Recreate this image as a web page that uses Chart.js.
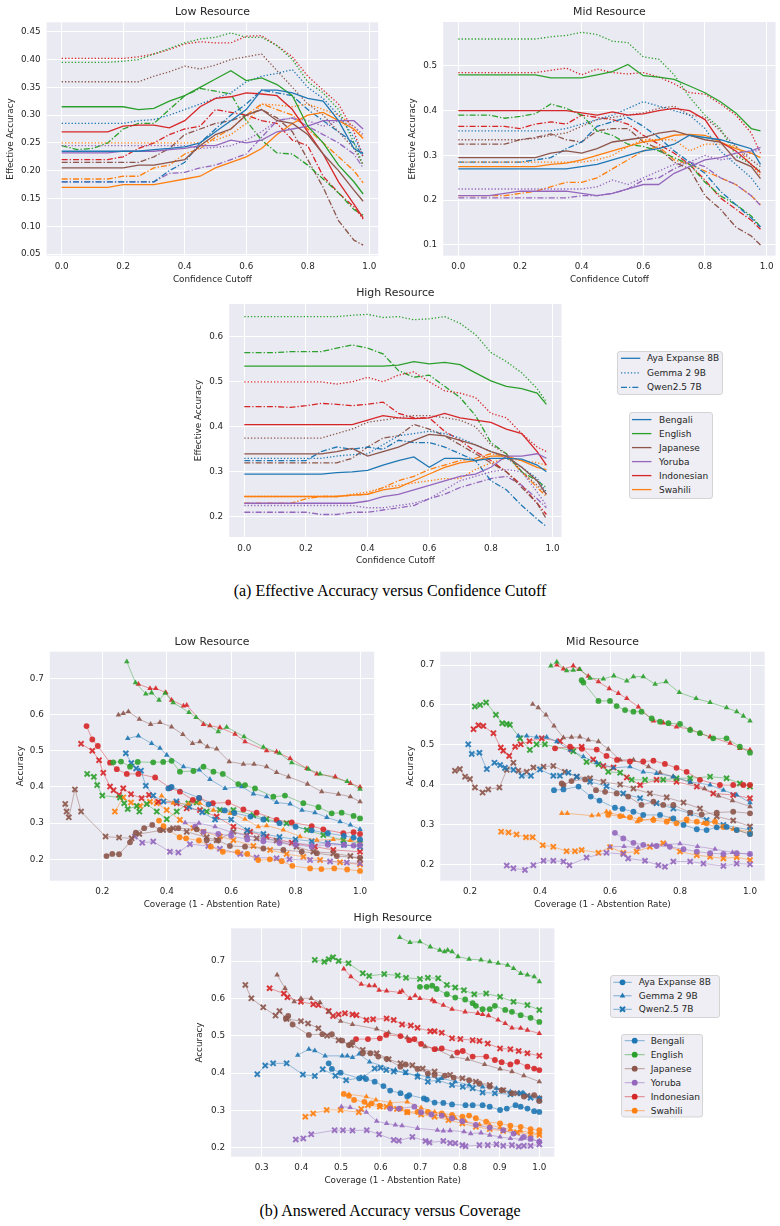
<!DOCTYPE html>
<html><head><meta charset="utf-8">
<script src="https://cdn.jsdelivr.net/npm/chart.js@4.4.0/dist/chart.umd.min.js"></script>
<style>
html,body{margin:0;padding:0;background:#fff;}
body{width:780px;height:1226px;overflow:hidden;position:relative;font-family:'DejaVu Sans',sans-serif;}
canvas{position:absolute;}
.cap{position:absolute;left:0;width:780px;text-align:center;font-family:'Liberation Serif','Times New Roman',serif;font-size:16px;color:#000;line-height:18px;white-space:nowrap;}
svg.leg{position:absolute;overflow:visible;}
svg.leg text{font-family:'DejaVu Sans',sans-serif;font-size:9px;fill:#262626;}
</style></head><body>
<div class="cap" style="top:582px">(a) Effective Accuracy versus Confidence Cutoff</div>
<div class="cap" style="top:1202px">(b) Answered Accuracy versus Coverage</div>
<div id="legends"></div>
<script>
// ---------------- categories ----------------
const LANGS = ['Bengali','English','Japanese','Yoruba','Indonesian','Swahili'];
const LANG_COLORS = ['#1f77b4','#2ca02c','#8c564b','#9467bd','#d62728','#ff7f0e'];
const MODELS = ['Aya Expanse 8B','Gemma 2 9B','Qwen2.5 7B'];

// ---------------- tick values ----------------
const CUTOFF_TICKS = [0,0.2,0.4,0.6,0.8,1.0];
const EA_LOW_Y_TICKS = [0.05,0.10,0.15,0.20,0.25,0.30,0.35,0.40,0.45];
const EA_MID_Y_TICKS = [0.1,0.2,0.3,0.4,0.5];
const EA_HIGH_Y_TICKS = [0.2,0.3,0.4,0.5,0.6];
const COV_LOW_TICKS = [0.2,0.4,0.6,0.8,1.0];
const COV_MID_TICKS = [0.2,0.4,0.6,0.8,1.0];
const COV_HIGH_TICKS = [0.3,0.4,0.5,0.6,0.7,0.8,0.9,1.0];
const ACC_Y_TICKS = [0.2,0.3,0.4,0.5,0.6,0.7];

// ---------------- (a) effective accuracy vs confidence cutoff ----------------
const CUTOFFS = [0,0.05,0.1,0.15,0.2,0.25,0.3,0.35,0.4,0.45,0.5,0.55,0.6,0.65,0.7,0.75,0.8,0.85,0.9,0.95,0.98];
// rows follow LANGS order
const EA_LOW_AYA = [
 [0.235,0.235,0.235,0.235,0.235,0.235,0.238,0.240,0.243,0.250,0.270,0.290,0.310,0.345,0.345,0.340,0.330,0.325,0.290,0.240,0.230],
 [0.315,0.315,0.315,0.315,0.315,0.310,0.312,0.325,0.335,0.350,0.365,0.380,0.362,0.367,0.355,0.335,0.280,0.250,0.210,0.180,0.158],
 [0.205,0.205,0.205,0.205,0.205,0.210,0.210,0.215,0.220,0.245,0.265,0.275,0.300,0.310,0.290,0.285,0.265,0.230,0.200,0.165,0.145],
 [0.232,0.232,0.232,0.232,0.235,0.235,0.235,0.238,0.240,0.245,0.245,0.255,0.250,0.255,0.270,0.275,0.280,0.290,0.290,0.290,0.275],
 [0.270,0.270,0.270,0.270,0.280,0.282,0.282,0.277,0.290,0.315,0.330,0.333,0.340,0.338,0.335,0.310,0.270,0.230,0.180,0.140,0.115],
 [0.170,0.170,0.170,0.170,0.175,0.175,0.175,0.180,0.185,0.190,0.205,0.215,0.225,0.240,0.265,0.285,0.300,0.305,0.290,0.275,0.258]
];
const EA_LOW_GEMMA = [
 [0.285,0.285,0.285,0.285,0.285,0.290,0.292,0.300,0.310,0.320,0.330,0.340,0.360,0.370,0.375,0.382,0.350,0.330,0.300,0.260,0.230],
 [0.395,0.395,0.395,0.395,0.397,0.400,0.410,0.420,0.430,0.437,0.440,0.448,0.440,0.440,0.425,0.400,0.360,0.340,0.310,0.250,0.210],
 [0.360,0.360,0.360,0.360,0.360,0.360,0.370,0.378,0.388,0.383,0.390,0.400,0.405,0.410,0.380,0.350,0.320,0.300,0.270,0.240,0.210],
 [0.245,0.245,0.245,0.245,0.245,0.245,0.245,0.245,0.245,0.240,0.242,0.245,0.255,0.270,0.290,0.295,0.290,0.280,0.290,0.280,0.265],
 [0.402,0.402,0.402,0.402,0.402,0.405,0.410,0.418,0.428,0.432,0.430,0.430,0.442,0.443,0.425,0.405,0.370,0.345,0.320,0.270,0.225],
 [0.250,0.250,0.250,0.250,0.250,0.250,0.250,0.250,0.250,0.250,0.255,0.265,0.285,0.320,0.318,0.315,0.320,0.310,0.300,0.280,0.260]
];
const EA_LOW_QWEN = [
 [0.180,0.180,0.180,0.180,0.180,0.180,0.180,0.200,0.215,0.250,0.275,0.300,0.320,0.345,0.340,0.335,0.310,0.290,0.270,0.250,0.225],
 [0.245,0.238,0.240,0.250,0.275,0.285,0.285,0.310,0.335,0.348,0.343,0.338,0.290,0.255,0.232,0.230,0.210,0.185,0.160,0.130,0.120],
 [0.215,0.215,0.215,0.215,0.215,0.215,0.225,0.240,0.265,0.275,0.285,0.290,0.300,0.310,0.295,0.270,0.220,0.170,0.110,0.075,0.066],
 [0.180,0.180,0.180,0.180,0.180,0.180,0.180,0.195,0.197,0.205,0.210,0.220,0.230,0.260,0.290,0.295,0.280,0.265,0.250,0.230,0.205],
 [0.220,0.220,0.220,0.220,0.225,0.240,0.250,0.265,0.275,0.280,0.310,0.305,0.300,0.290,0.285,0.255,0.245,0.190,0.160,0.135,0.113],
 [0.185,0.185,0.185,0.185,0.190,0.190,0.205,0.210,0.230,0.240,0.260,0.275,0.300,0.320,0.310,0.300,0.275,0.250,0.225,0.200,0.178]
];
const EA_MID_AYA = [
 [0.270,0.270,0.270,0.270,0.270,0.270,0.270,0.270,0.275,0.280,0.290,0.300,0.310,0.315,0.325,0.345,0.340,0.335,0.325,0.315,0.280],
 [0.480,0.480,0.480,0.480,0.480,0.480,0.473,0.473,0.473,0.480,0.487,0.503,0.478,0.475,0.470,0.455,0.440,0.420,0.395,0.360,0.355],
 [0.295,0.295,0.295,0.295,0.295,0.295,0.305,0.310,0.305,0.315,0.330,0.335,0.340,0.350,0.355,0.345,0.335,0.330,0.290,0.275,0.248],
 [0.210,0.210,0.210,0.215,0.220,0.220,0.220,0.220,0.215,0.210,0.215,0.225,0.235,0.235,0.260,0.275,0.290,0.295,0.305,0.310,0.318],
 [0.400,0.400,0.400,0.400,0.400,0.400,0.400,0.400,0.395,0.390,0.397,0.390,0.393,0.400,0.405,0.400,0.380,0.330,0.310,0.280,0.262],
 [0.275,0.275,0.275,0.275,0.275,0.275,0.280,0.283,0.290,0.300,0.310,0.320,0.330,0.335,0.345,0.347,0.345,0.330,0.315,0.305,0.295]
];
const EA_MID_GEMMA = [
 [0.355,0.355,0.355,0.355,0.355,0.355,0.355,0.360,0.370,0.380,0.390,0.405,0.420,0.410,0.400,0.390,0.360,0.310,0.280,0.250,0.222],
 [0.560,0.560,0.560,0.560,0.560,0.560,0.565,0.568,0.575,0.570,0.555,0.552,0.520,0.515,0.480,0.430,0.390,0.360,0.300,0.280,0.265],
 [0.335,0.335,0.335,0.335,0.335,0.338,0.345,0.350,0.365,0.380,0.385,0.390,0.395,0.405,0.410,0.390,0.385,0.355,0.320,0.290,0.275],
 [0.225,0.225,0.225,0.225,0.225,0.225,0.225,0.225,0.225,0.230,0.245,0.235,0.250,0.265,0.280,0.285,0.300,0.290,0.295,0.305,0.315],
 [0.485,0.485,0.485,0.485,0.485,0.485,0.490,0.495,0.480,0.493,0.485,0.482,0.485,0.475,0.460,0.440,0.437,0.415,0.390,0.350,0.305],
 [0.285,0.285,0.285,0.285,0.285,0.285,0.285,0.285,0.285,0.290,0.300,0.320,0.335,0.335,0.335,0.310,0.325,0.325,0.320,0.280,0.255]
];
const EA_MID_QWEN = [
 [0.285,0.285,0.285,0.285,0.285,0.290,0.295,0.315,0.330,0.365,0.375,0.385,0.365,0.340,0.310,0.285,0.260,0.220,0.190,0.160,0.140],
 [0.390,0.390,0.390,0.383,0.387,0.393,0.415,0.405,0.390,0.355,0.345,0.325,0.320,0.310,0.295,0.280,0.240,0.210,0.190,0.165,0.140],
 [0.325,0.325,0.325,0.325,0.335,0.340,0.348,0.335,0.330,0.355,0.360,0.360,0.330,0.315,0.285,0.270,0.210,0.180,0.140,0.120,0.100],
 [0.205,0.205,0.205,0.205,0.205,0.205,0.205,0.205,0.210,0.210,0.215,0.225,0.245,0.250,0.270,0.285,0.275,0.250,0.235,0.210,0.188],
 [0.365,0.365,0.365,0.365,0.360,0.370,0.375,0.370,0.390,0.385,0.380,0.370,0.345,0.325,0.305,0.280,0.245,0.205,0.180,0.155,0.135],
 [0.210,0.210,0.210,0.210,0.215,0.220,0.230,0.240,0.240,0.250,0.270,0.290,0.310,0.320,0.290,0.280,0.265,0.250,0.235,0.210,0.190]
];
const EA_HIGH_AYA = [
 [0.295,0.295,0.295,0.295,0.295,0.295,0.298,0.300,0.303,0.315,0.325,0.333,0.310,0.330,0.330,0.325,0.330,0.330,0.328,0.315,0.300],
 [0.535,0.535,0.535,0.535,0.535,0.535,0.535,0.535,0.535,0.535,0.537,0.545,0.540,0.543,0.538,0.520,0.502,0.490,0.485,0.475,0.450],
 [0.340,0.340,0.340,0.340,0.340,0.340,0.345,0.352,0.335,0.345,0.355,0.370,0.383,0.380,0.370,0.360,0.345,0.335,0.310,0.280,0.250],
 [0.230,0.230,0.230,0.230,0.230,0.230,0.230,0.230,0.235,0.245,0.250,0.260,0.270,0.280,0.290,0.295,0.310,0.335,0.335,0.340,0.330],
 [0.405,0.405,0.405,0.405,0.405,0.405,0.405,0.405,0.415,0.425,0.420,0.418,0.420,0.430,0.420,0.415,0.410,0.395,0.385,0.345,0.315],
 [0.245,0.245,0.245,0.245,0.245,0.245,0.245,0.248,0.250,0.260,0.265,0.280,0.295,0.310,0.320,0.325,0.335,0.335,0.325,0.310,0.305]
];
const EA_HIGH_GEMMA = [
 [0.330,0.330,0.330,0.330,0.330,0.330,0.335,0.338,0.340,0.360,0.380,0.385,0.390,0.385,0.375,0.360,0.345,0.330,0.310,0.285,0.255],
 [0.645,0.645,0.645,0.645,0.645,0.645,0.645,0.648,0.650,0.643,0.645,0.638,0.640,0.645,0.630,0.605,0.565,0.545,0.520,0.485,0.455],
 [0.375,0.375,0.375,0.375,0.375,0.375,0.385,0.395,0.410,0.415,0.420,0.425,0.425,0.420,0.415,0.400,0.360,0.340,0.300,0.270,0.250],
 [0.225,0.225,0.225,0.225,0.225,0.225,0.225,0.225,0.220,0.220,0.225,0.230,0.240,0.260,0.280,0.290,0.300,0.305,0.300,0.255,0.225],
 [0.500,0.500,0.500,0.500,0.500,0.500,0.495,0.500,0.510,0.500,0.515,0.522,0.500,0.480,0.475,0.465,0.430,0.420,0.385,0.355,0.345],
 [0.245,0.245,0.245,0.245,0.245,0.245,0.245,0.250,0.255,0.265,0.270,0.275,0.280,0.285,0.285,0.305,0.320,0.330,0.325,0.320,0.315]
];
const EA_HIGH_QWEN = [
 [0.325,0.325,0.325,0.325,0.325,0.345,0.355,0.350,0.355,0.350,0.370,0.365,0.365,0.355,0.340,0.325,0.280,0.260,0.225,0.195,0.178],
 [0.565,0.565,0.565,0.567,0.567,0.567,0.575,0.582,0.575,0.562,0.525,0.510,0.515,0.490,0.465,0.425,0.365,0.340,0.300,0.280,0.265],
 [0.320,0.320,0.320,0.320,0.320,0.320,0.320,0.330,0.355,0.375,0.380,0.405,0.395,0.380,0.360,0.340,0.320,0.300,0.265,0.230,0.195],
 [0.210,0.210,0.210,0.210,0.210,0.205,0.205,0.210,0.210,0.215,0.220,0.225,0.240,0.250,0.265,0.275,0.285,0.290,0.270,0.240,0.220],
 [0.445,0.445,0.445,0.443,0.447,0.452,0.450,0.447,0.450,0.455,0.430,0.420,0.420,0.390,0.370,0.345,0.325,0.300,0.270,0.230,0.205],
 [0.230,0.230,0.230,0.230,0.240,0.245,0.245,0.248,0.250,0.265,0.280,0.290,0.305,0.315,0.325,0.330,0.340,0.335,0.300,0.265,0.245]
];

// ---------------- (b) answered accuracy vs coverage: [coverage, accuracy] ----------------
const ACC_LOW_AYA = [
 [[0.405,0.396],[0.415,0.400],[0.50,0.370],[0.53,0.352],[0.58,0.335],[0.61,0.328],[0.66,0.318],[0.70,0.310],[0.75,0.300],[0.80,0.290],[0.85,0.280],[0.90,0.272],[0.95,0.265],[0.98,0.260],[1.0,0.255]],
 [[0.234,0.468],[0.258,0.470],[0.286,0.456],[0.310,0.469],[0.358,0.468],[0.389,0.469],[0.415,0.472],[0.441,0.442],[0.483,0.444],[0.514,0.456],[0.545,0.442],[0.574,0.436],[0.622,0.408],[0.643,0.405],[0.674,0.396],[0.731,0.373],[0.767,0.376],[0.824,0.355],[0.871,0.344],[0.912,0.327],[0.943,0.329],[0.980,0.320],[1.0,0.313]],
 [[0.213,0.209],[0.231,0.215],[0.252,0.214],[0.286,0.247],[0.304,0.274],[0.330,0.286],[0.355,0.295],[0.379,0.281],[0.410,0.281],[0.436,0.286],[0.493,0.283],[0.524,0.253],[0.560,0.252],[0.596,0.237],[0.643,0.235],[0.700,0.230],[0.762,0.226],[0.819,0.221],[0.866,0.217],[0.928,0.209],[1.0,0.205]],
 [[0.488,0.290],[0.514,0.276],[0.56,0.270],[0.60,0.265],[0.65,0.255],[0.70,0.250],[0.75,0.245],[0.80,0.240],[0.85,0.235],[0.90,0.240],[0.95,0.240],[0.98,0.238],[1.0,0.240]],
 [[0.151,0.568],[0.169,0.531],[0.186,0.513],[0.224,0.467],[0.245,0.449],[0.276,0.436],[0.312,0.436],[0.364,0.426],[0.410,0.397],[0.441,0.387],[0.481,0.364],[0.501,0.369],[0.543,0.355],[0.591,0.357],[0.638,0.338],[0.679,0.329],[0.741,0.309],[0.788,0.302],[0.850,0.292],[0.886,0.283],[0.948,0.272],[0.980,0.275],[1.0,0.270]],
 [[0.376,0.307],[0.390,0.292],[0.440,0.261],[0.460,0.258],[0.500,0.252],[0.537,0.235],[0.574,0.221],[0.620,0.220],[0.650,0.215],[0.684,0.198],[0.720,0.200],[0.757,0.195],[0.790,0.182],[0.845,0.175],[0.880,0.173],[0.920,0.175],[0.960,0.172],[1.0,0.168]]
];
const ACC_LOW_GEMMA = [
 [[0.279,0.534],[0.312,0.541],[0.353,0.520],[0.379,0.507],[0.400,0.488],[0.452,0.456],[0.501,0.447],[0.534,0.421],[0.581,0.396],[0.633,0.401],[0.669,0.381],[0.710,0.373],[0.741,0.357],[0.783,0.353],[0.820,0.336],[0.860,0.329],[0.897,0.316],[0.938,0.304],[0.970,0.295],[1.0,0.283]],
 [[0.276,0.746],[0.303,0.688],[0.335,0.657],[0.353,0.660],[0.376,0.640],[0.395,0.659],[0.420,0.633],[0.469,0.606],[0.491,0.592],[0.560,0.553],[0.586,0.565],[0.640,0.539],[0.700,0.510],[0.750,0.493],[0.788,0.467],[0.840,0.449],[0.876,0.436],[0.960,0.415],[1.0,0.394]],
 [[0.250,0.599],[0.265,0.603],[0.281,0.608],[0.315,0.587],[0.350,0.573],[0.379,0.578],[0.415,0.566],[0.450,0.545],[0.480,0.520],[0.503,0.525],[0.526,0.511],[0.555,0.505],[0.594,0.470],[0.638,0.463],[0.671,0.463],[0.710,0.456],[0.741,0.440],[0.778,0.428],[0.837,0.408],[0.881,0.387],[0.933,0.380],[0.970,0.373],[1.0,0.359]],
 [[0.457,0.301],[0.50,0.300],[0.55,0.290],[0.60,0.275],[0.65,0.265],[0.70,0.260],[0.75,0.250],[0.80,0.245],[0.85,0.240],[0.90,0.245],[0.95,0.240],[1.0,0.235]],
 [[0.312,0.684],[0.348,0.672],[0.366,0.672],[0.397,0.661],[0.415,0.640],[0.452,0.624],[0.462,0.626],[0.514,0.573],[0.534,0.569],[0.565,0.564],[0.612,0.546],[0.643,0.525],[0.710,0.500],[0.741,0.497],[0.783,0.479],[0.835,0.451],[0.866,0.436],[0.923,0.428],[0.970,0.410],[1.0,0.400]],
 [[0.384,0.375],[0.420,0.355],[0.467,0.353],[0.503,0.355],[0.545,0.336],[0.597,0.327],[0.643,0.311],[0.684,0.290],[0.710,0.293],[0.762,0.281],[0.814,0.263],[0.866,0.253],[0.917,0.255],[0.970,0.252],[1.0,0.249]]
];
const ACC_LOW_QWEN = [
 [[0.273,0.493],[0.290,0.466],[0.305,0.451],[0.320,0.445],[0.335,0.403],[0.358,0.376],[0.390,0.360],[0.430,0.360],[0.470,0.345],[0.510,0.330],[0.550,0.310],[0.600,0.310],[0.650,0.280],[0.700,0.270],[0.750,0.262],[0.800,0.255],[0.850,0.250],[0.900,0.245],[0.950,0.240],[1.0,0.235]],
 [[0.153,0.436],[0.174,0.428],[0.184,0.405],[0.200,0.376],[0.255,0.371],[0.268,0.355],[0.279,0.339],[0.307,0.347],[0.315,0.332],[0.338,0.353],[0.369,0.332],[0.400,0.311],[0.431,0.332],[0.467,0.355],[0.493,0.357],[0.524,0.332],[0.565,0.336],[0.607,0.336],[0.669,0.322],[0.710,0.311],[0.772,0.300],[0.835,0.281],[0.886,0.267],[0.948,0.253],[1.0,0.244]],
 [[0.085,0.353],[0.089,0.332],[0.096,0.316],[0.115,0.393],[0.134,0.332],[0.210,0.263],[0.252,0.260],[0.291,0.258],[0.315,0.270],[0.389,0.281],[0.420,0.286],[0.462,0.276],[0.524,0.261],[0.555,0.253],[0.607,0.276],[0.648,0.267],[0.679,0.258],[0.741,0.252],[0.803,0.235],[0.855,0.221],[0.917,0.217],[0.970,0.209],[1.0,0.200]],
 [[0.301,0.263],[0.324,0.246],[0.358,0.249],[0.410,0.221],[0.436,0.219],[0.472,0.242],[0.529,0.237],[0.565,0.229],[0.628,0.215],[0.679,0.205],[0.741,0.203],[0.781,0.200],[0.845,0.198],[0.907,0.194],[0.959,0.191],[1.0,0.189]],
 [[0.134,0.519],[0.169,0.500],[0.190,0.474],[0.203,0.439],[0.224,0.401],[0.235,0.391],[0.252,0.378],[0.265,0.396],[0.289,0.380],[0.322,0.369],[0.345,0.378],[0.374,0.359],[0.431,0.355],[0.462,0.341],[0.503,0.336],[0.555,0.318],[0.607,0.290],[0.659,0.276],[0.710,0.263],[0.788,0.246],[0.860,0.235],[0.917,0.226],[1.0,0.221]],
 [[0.239,0.332],[0.265,0.371],[0.289,0.357],[0.317,0.347],[0.348,0.359],[0.369,0.355],[0.400,0.336],[0.441,0.309],[0.483,0.286],[0.514,0.276],[0.565,0.263],[0.607,0.253],[0.669,0.237],[0.721,0.226],[0.772,0.215],[0.824,0.207],[0.876,0.198],[0.938,0.192],[1.0,0.186]]
];
const ACC_MID_AYA = [
 [[0.440,0.386],[0.467,0.388],[0.510,0.395],[0.545,0.370],[0.570,0.360],[0.614,0.342],[0.636,0.339],[0.667,0.332],[0.695,0.324],[0.743,0.324],[0.781,0.315],[0.810,0.299],[0.848,0.288],[0.876,0.286],[0.905,0.293],[0.933,0.294],[0.962,0.286],[1.0,0.276]],
 [[0.519,0.662],[0.524,0.656],[0.567,0.610],[0.600,0.610],[0.619,0.597],[0.643,0.587],[0.667,0.583],[0.690,0.583],[0.719,0.566],[0.743,0.558],[0.767,0.554],[0.800,0.552],[0.829,0.537],[0.857,0.529],[0.895,0.516],[0.933,0.516],[0.971,0.495],[1.0,0.480]],
 [[0.462,0.403],[0.467,0.399],[0.490,0.409],[0.529,0.413],[0.560,0.386],[0.586,0.382],[0.619,0.378],[0.652,0.370],[0.690,0.349],[0.724,0.357],[0.752,0.349],[0.781,0.349],[0.829,0.330],[0.862,0.325],[0.905,0.330],[0.952,0.332],[1.0,0.328]],
 [[0.614,0.279],[0.638,0.265],[0.667,0.254],[0.695,0.249],[0.733,0.246],[0.771,0.244],[0.810,0.238],[0.848,0.232],[0.886,0.228],[0.924,0.226],[0.962,0.228],[1.0,0.226]],
 [[0.443,0.491],[0.486,0.495],[0.520,0.490],[0.562,0.488],[0.590,0.472],[0.620,0.462],[0.657,0.458],[0.695,0.458],[0.724,0.460],[0.757,0.452],[0.790,0.442],[0.819,0.432],[0.857,0.412],[0.914,0.399],[0.952,0.399],[0.981,0.399],[1.0,0.399]],
 [[0.595,0.324],[0.629,0.321],[0.657,0.318],[0.686,0.313],[0.724,0.311],[0.762,0.307],[0.790,0.303],[0.819,0.313],[0.848,0.307],[0.876,0.303],[0.900,0.307],[0.924,0.294],[0.962,0.286],[1.0,0.276]]
];
const ACC_MID_GEMMA = [
 [[0.338,0.522],[0.362,0.522],[0.390,0.519],[0.419,0.519],[0.448,0.508],[0.486,0.487],[0.524,0.470],[0.562,0.455],[0.610,0.442],[0.657,0.445],[0.695,0.432],[0.733,0.428],[0.781,0.420],[0.829,0.407],[0.886,0.399],[0.924,0.386],[0.962,0.374],[1.0,0.355]],
 [[0.431,0.698],[0.448,0.708],[0.476,0.686],[0.495,0.687],[0.514,0.689],[0.543,0.667],[0.581,0.665],[0.611,0.673],[0.648,0.660],[0.667,0.671],[0.695,0.671],[0.729,0.652],[0.760,0.658],[0.798,0.631],[0.846,0.616],[0.886,0.606],[0.933,0.593],[0.962,0.583],[0.981,0.572],[1.0,0.560]],
 [[0.379,0.602],[0.395,0.593],[0.417,0.575],[0.440,0.547],[0.467,0.518],[0.490,0.519],[0.514,0.520],[0.538,0.512],[0.567,0.508],[0.595,0.489],[0.629,0.462],[0.667,0.462],[0.710,0.445],[0.743,0.430],[0.780,0.420],[0.830,0.405],[0.870,0.390],[0.910,0.372],[0.950,0.360],[1.0,0.345]],
 [[0.600,0.244],[0.640,0.245],[0.680,0.242],[0.720,0.248],[0.760,0.250],[0.800,0.252],[0.850,0.245],[0.900,0.238],[0.950,0.230],[1.0,0.225]],
 [[0.448,0.700],[0.467,0.690],[0.495,0.698],[0.512,0.689],[0.538,0.672],[0.567,0.658],[0.598,0.641],[0.624,0.629],[0.648,0.616],[0.681,0.595],[0.724,0.560],[0.752,0.555],[0.790,0.545],[0.829,0.539],[0.857,0.529],[0.886,0.520],[0.943,0.504],[0.971,0.491],[1.0,0.487]],
 [[0.462,0.328],[0.478,0.328],[0.548,0.322],[0.567,0.324],[0.590,0.332],[0.600,0.330],[0.638,0.320],[0.678,0.307],[0.724,0.315],[0.771,0.313],[0.819,0.307],[0.867,0.303],[0.905,0.294],[0.952,0.288],[1.0,0.282]]
];
const ACC_MID_QWEN = [
 [[0.195,0.501],[0.205,0.477],[0.227,0.480],[0.248,0.439],[0.270,0.455],[0.286,0.449],[0.300,0.442],[0.324,0.437],[0.348,0.422],[0.374,0.422],[0.400,0.438],[0.438,0.422],[0.457,0.422],[0.481,0.430],[0.505,0.420],[0.543,0.407],[0.590,0.396],[0.638,0.378],[0.686,0.366],[0.733,0.353],[0.781,0.340],[0.829,0.328],[0.876,0.311],[0.924,0.299],[1.0,0.286]],
 [[0.214,0.596],[0.229,0.600],[0.246,0.606],[0.274,0.575],[0.292,0.554],[0.305,0.552],[0.314,0.550],[0.343,0.516],[0.371,0.487],[0.390,0.501],[0.414,0.501],[0.495,0.484],[0.533,0.457],[0.567,0.451],[0.595,0.432],[0.629,0.430],[0.662,0.412],[0.700,0.412],[0.752,0.412],[0.790,0.416],[0.829,0.416],[0.886,0.420],[0.933,0.416],[0.971,0.403],[1.0,0.395]],
 [[0.157,0.435],[0.171,0.439],[0.186,0.420],[0.200,0.414],[0.214,0.393],[0.236,0.380],[0.252,0.388],[0.284,0.393],[0.305,0.437],[0.324,0.455],[0.338,0.435],[0.362,0.432],[0.381,0.443],[0.410,0.445],[0.438,0.447],[0.471,0.432],[0.505,0.420],[0.543,0.416],[0.581,0.407],[0.629,0.400],[0.667,0.390],[0.714,0.378],[0.762,0.368],[0.810,0.355],[0.857,0.340],[0.905,0.320],[0.952,0.310],[1.0,0.295]],
 [[0.305,0.197],[0.324,0.190],[0.357,0.186],[0.381,0.198],[0.410,0.209],[0.438,0.209],[0.467,0.207],[0.484,0.198],[0.533,0.217],[0.590,0.229],[0.638,0.226],[0.652,0.215],[0.700,0.209],[0.738,0.198],[0.757,0.194],[0.781,0.207],[0.829,0.207],[0.867,0.202],[0.924,0.196],[0.962,0.202],[1.0,0.200]],
 [[0.210,0.539],[0.224,0.549],[0.238,0.547],[0.267,0.529],[0.288,0.493],[0.295,0.485],[0.312,0.472],[0.329,0.495],[0.345,0.501],[0.370,0.509],[0.405,0.516],[0.457,0.509],[0.490,0.488],[0.519,0.495],[0.552,0.463],[0.581,0.447],[0.610,0.443],[0.648,0.418],[0.686,0.399],[0.733,0.412],[0.790,0.407],[0.848,0.395],[0.895,0.378],[0.952,0.374],[1.0,0.366]],
 [[0.289,0.282],[0.310,0.280],[0.333,0.275],[0.360,0.268],[0.379,0.268],[0.408,0.248],[0.438,0.244],[0.476,0.233],[0.500,0.233],[0.519,0.236],[0.567,0.229],[0.600,0.243],[0.638,0.229],[0.676,0.232],[0.714,0.244],[0.752,0.253],[0.800,0.232],[0.848,0.223],[0.886,0.219],[0.924,0.215],[0.962,0.218],[1.0,0.211]]
];
const ACC_HIGH_AYA = [
 [[0.469,0.426],[0.477,0.411],[0.499,0.401],[0.546,0.386],[0.563,0.384],[0.585,0.377],[0.607,0.365],[0.624,0.353],[0.650,0.346],[0.667,0.337],[0.672,0.341],[0.709,0.332],[0.716,0.329],[0.736,0.321],[0.758,0.320],[0.780,0.316],[0.814,0.314],[0.832,0.314],[0.857,0.314],[0.875,0.310],[0.901,0.301],[0.918,0.305],[0.940,0.314],[0.953,0.310],[0.970,0.305],[0.987,0.298],[1.0,0.296]],
 [[0.699,0.631],[0.716,0.631],[0.730,0.634],[0.741,0.625],[0.767,0.611],[0.788,0.602],[0.813,0.597],[0.832,0.587],[0.840,0.580],[0.857,0.571],[0.875,0.571],[0.888,0.580],[0.914,0.569],[0.931,0.564],[0.953,0.555],[0.978,0.548],[1.0,0.537]],
 [[0.361,0.546],[0.367,0.553],[0.378,0.530],[0.419,0.502],[0.453,0.504],[0.477,0.504],[0.503,0.487],[0.520,0.475],[0.529,0.482],[0.555,0.453],[0.574,0.453],[0.594,0.444],[0.615,0.438],[0.650,0.417],[0.663,0.423],[0.693,0.411],[0.719,0.399],[0.736,0.395],[0.762,0.393],[0.784,0.388],[0.823,0.381],[0.849,0.372],[0.875,0.364],[0.905,0.354],[0.931,0.346],[0.961,0.337],[0.987,0.341],[1.0,0.325]],
 [[0.624,0.305],[0.646,0.305],[0.685,0.310],[0.702,0.295],[0.728,0.289],[0.754,0.286],[0.780,0.279],[0.806,0.271],[0.840,0.261],[0.875,0.254],[0.909,0.247],[0.935,0.238],[0.961,0.229],[0.978,0.225],[1.0,0.216]],
 [[0.538,0.491],[0.568,0.491],[0.598,0.493],[0.614,0.502],[0.650,0.499],[0.672,0.488],[0.685,0.491],[0.702,0.478],[0.736,0.464],[0.754,0.466],[0.793,0.455],[0.807,0.459],[0.832,0.444],[0.866,0.444],[0.888,0.435],[0.905,0.429],[0.927,0.423],[0.944,0.430],[0.970,0.417],[0.987,0.412],[1.0,0.408]],
 [[0.507,0.344],[0.520,0.339],[0.533,0.328],[0.559,0.323],[0.577,0.319],[0.598,0.313],[0.624,0.310],[0.650,0.305],[0.667,0.296],[0.693,0.296],[0.719,0.296],[0.754,0.292],[0.780,0.288],[0.806,0.283],[0.823,0.286],[0.840,0.279],[0.866,0.270],[0.901,0.265],[0.927,0.259],[0.953,0.256],[0.978,0.250],[1.0,0.247]]
];
const ACC_HIGH_GEMMA = [
 [[0.391,0.448],[0.419,0.464],[0.434,0.460],[0.460,0.446],[0.503,0.446],[0.516,0.446],[0.529,0.442],[0.546,0.451],[0.572,0.430],[0.637,0.408],[0.663,0.399],[0.693,0.395],[0.719,0.390],[0.754,0.386],[0.788,0.377],[0.823,0.368],[0.857,0.363],[0.892,0.359],[0.927,0.350],[0.961,0.346],[1.0,0.334]],
 [[0.648,0.763],[0.674,0.750],[0.699,0.752],[0.725,0.738],[0.749,0.729],[0.761,0.725],[0.769,0.729],[0.780,0.725],[0.795,0.712],[0.823,0.705],[0.853,0.703],[0.875,0.698],[0.896,0.694],[0.920,0.689],[0.935,0.680],[0.953,0.667],[0.970,0.663],[0.987,0.658],[1.0,0.645]],
 [[0.339,0.663],[0.359,0.627],[0.382,0.591],[0.399,0.600],[0.425,0.600],[0.447,0.589],[0.469,0.564],[0.499,0.539],[0.529,0.530],[0.590,0.518],[0.620,0.508],[0.667,0.495],[0.712,0.471],[0.741,0.464],[0.780,0.444],[0.819,0.437],[0.862,0.423],[0.901,0.411],[0.931,0.404],[0.961,0.393],[1.0,0.377]],
 [[0.501,0.310],[0.523,0.308],[0.564,0.295],[0.590,0.271],[0.615,0.265],[0.637,0.261],[0.654,0.259],[0.693,0.252],[0.743,0.247],[0.758,0.245],[0.775,0.246],[0.810,0.243],[0.827,0.238],[0.853,0.240],[0.875,0.234],[0.901,0.229],[0.927,0.225],[0.953,0.223],[0.978,0.221],[1.0,0.218]],
 [[0.507,0.679],[0.525,0.658],[0.551,0.638],[0.571,0.634],[0.585,0.634],[0.596,0.622],[0.615,0.620],[0.648,0.616],[0.654,0.620],[0.674,0.600],[0.687,0.607],[0.699,0.600],[0.730,0.596],[0.736,0.591],[0.758,0.582],[0.780,0.571],[0.813,0.564],[0.845,0.560],[0.857,0.557],[0.872,0.554],[0.896,0.542],[0.914,0.533],[0.931,0.521],[0.953,0.520],[0.970,0.515],[1.0,0.506]],
 [[0.520,0.343],[0.564,0.337],[0.588,0.328],[0.624,0.321],[0.667,0.323],[0.702,0.307],[0.736,0.296],[0.762,0.286],[0.788,0.279],[0.814,0.271],[0.849,0.262],[0.875,0.261],[0.901,0.254],[0.927,0.249],[0.953,0.245],[0.978,0.241],[1.0,0.236]]
];
const ACC_HIGH_QWEN = [
 [[0.289,0.397],[0.309,0.420],[0.329,0.426],[0.363,0.426],[0.404,0.396],[0.434,0.392],[0.454,0.410],[0.486,0.393],[0.513,0.381],[0.555,0.388],[0.585,0.412],[0.600,0.414],[0.614,0.408],[0.633,0.404],[0.663,0.402],[0.693,0.390],[0.719,0.377],[0.745,0.381],[0.780,0.368],[0.807,0.363],[0.832,0.359],[0.857,0.348],[0.888,0.346],[0.927,0.343],[0.953,0.346],[0.978,0.334],[1.0,0.328]],
 [[0.434,0.703],[0.458,0.698],[0.469,0.705],[0.480,0.710],[0.494,0.700],[0.519,0.694],[0.555,0.667],[0.571,0.660],[0.609,0.665],[0.643,0.661],[0.664,0.655],[0.699,0.652],[0.719,0.655],[0.745,0.654],[0.767,0.636],[0.788,0.629],[0.810,0.622],[0.836,0.611],[0.866,0.613],[0.901,0.604],[0.935,0.591],[0.970,0.582],[1.0,0.569]],
 [[0.259,0.636],[0.274,0.600],[0.304,0.576],[0.335,0.554],[0.345,0.566],[0.363,0.545],[0.399,0.539],[0.417,0.533],[0.443,0.520],[0.465,0.500],[0.494,0.488],[0.525,0.475],[0.555,0.462],[0.590,0.453],[0.620,0.437],[0.650,0.426],[0.680,0.421],[0.706,0.412],[0.736,0.404],[0.775,0.395],[0.806,0.386],[0.840,0.377],[0.875,0.368],[0.909,0.354],[0.944,0.346],[0.970,0.339],[1.0,0.332]],
 [[0.386,0.222],[0.405,0.225],[0.425,0.236],[0.484,0.247],[0.505,0.247],[0.529,0.246],[0.565,0.247],[0.596,0.236],[0.633,0.221],[0.646,0.219],[0.680,0.229],[0.713,0.218],[0.723,0.214],[0.758,0.218],[0.775,0.213],[0.788,0.212],[0.806,0.207],[0.814,0.204],[0.849,0.207],[0.870,0.207],[0.892,0.209],[0.909,0.205],[0.931,0.207],[0.948,0.203],[0.961,0.205],[0.978,0.205],[1.0,0.209]],
 [[0.320,0.627],[0.356,0.613],[0.365,0.603],[0.399,0.591],[0.430,0.584],[0.443,0.582],[0.469,0.566],[0.480,0.553],[0.494,0.557],[0.510,0.560],[0.529,0.557],[0.539,0.555],[0.564,0.542],[0.581,0.544],[0.615,0.546],[0.633,0.542],[0.654,0.530],[0.676,0.527],[0.693,0.521],[0.725,0.512],[0.736,0.512],[0.754,0.508],[0.780,0.493],[0.801,0.491],[0.832,0.488],[0.849,0.486],[0.870,0.479],[0.901,0.466],[0.927,0.464],[0.948,0.459],[0.970,0.453],[1.0,0.446]],
 [[0.410,0.283],[0.430,0.292],[0.464,0.301],[0.499,0.301],[0.545,0.295],[0.551,0.304],[0.568,0.314],[0.598,0.310],[0.615,0.310],[0.641,0.304],[0.667,0.295],[0.702,0.289],[0.736,0.283],[0.771,0.274],[0.806,0.265],[0.840,0.256],[0.875,0.250],[0.909,0.245],[0.944,0.241],[0.978,0.236],[1.0,0.234]]
];

// ---------------- styling ----------------
const FONT = "'DejaVu Sans', sans-serif";
const TXT = '#262626';
const LINE_DASHES = [[], [1.3, 2], [6, 2, 1.3, 2]];
const MARKERS = ['circle', 'triangle', 'crossRot'];
const MARKER_R = [2.9, 3.2, 3.6];
const MARKER_BW = [0, 0, 2.0];

function rgba(hex, a) {
  const n = parseInt(hex.slice(1), 16);
  return `rgba(${(n >> 16) & 255},${(n >> 8) & 255},${n & 255},${a})`;
}

const bgPlugin = {
  id: 'axesBg',
  beforeDraw(chart) {
    const {ctx, chartArea: a} = chart;
    ctx.save();
    ctx.fillStyle = '#eaeaf2';
    ctx.fillRect(a.left, a.top, a.right - a.left, a.bottom - a.top);
    ctx.restore();
  }
};

function eaDatasets(groups) {
  const ds = [];
  groups.forEach((g, mi) => {
    LANGS.forEach((lang, li) => {
      ds.push({
        label: lang + ' / ' + MODELS[mi],
        data: CUTOFFS.map((x, i) => ({x: x, y: g[li][i]})),
        borderColor: LANG_COLORS[li],
        borderWidth: 1.3,
        borderDash: LINE_DASHES[mi],
        pointRadius: 0,
        tension: 0,
        fill: false
      });
    });
  });
  return ds;
}

function accDatasets(groups) {
  const ds = [];
  groups.forEach((g, mi) => {
    LANGS.forEach((lang, li) => {
      const c = LANG_COLORS[li];
      ds.push({
        label: lang + ' / ' + MODELS[mi],
        data: g[li].map(p => ({x: p[0], y: p[1]})),
        showLine: true,
        borderColor: rgba(c, 0.55),
        borderWidth: 0.8,
        pointStyle: MARKERS[mi],
        pointRadius: MARKER_R[mi],
        pointBackgroundColor: rgba(c, 0.9),
        pointBorderColor: rgba(c, 0.9),
        pointBorderWidth: MARKER_BW[mi],
        tension: 0,
        fill: false
      });
    });
  });
  return ds;
}

function panel(p) {
  const [cl, ct, cw, ch] = p.box;
  const [L, T, R, B] = p.area;
  const TS = 10.9, AS = 8.8, KS = 8.8;
  const tlh = TS * 1.2, alh = AS * 1.2;
  const tPadTop = p.titleY - ct - tlh / 2;
  const tPadBot = (T - ct) - tPadTop - tlh;
  const yAxisW = L - cl, xAxisH = ct + ch - B, rightPad = cl + cw - R;
  const xTitlePadBot = ct + ch - p.xlabelY - alh / 2;
  const yTitlePadTop = p.ylabelX - cl - alh / 2;
  const c = document.createElement('canvas');
  c.width = cw; c.height = ch;
  c.style.left = cl + 'px'; c.style.top = ct + 'px';
  c.style.width = cw + 'px'; c.style.height = ch + 'px';
  document.body.appendChild(c);
  const tickFont = {family: FONT, size: KS};
  new Chart(c, {
    type: 'line',
    data: {datasets: p.datasets},
    options: {
      responsive: false, animation: false, events: [],
      devicePixelRatio: 1,
      layout: {padding: {left: 0, top: 0, right: rightPad, bottom: 0}},
      plugins: {
        legend: {display: false},
        tooltip: {enabled: false},
        title: {display: true, text: p.title, fullSize: false, color: TXT,
                font: {family: FONT, size: TS, weight: 'normal'},
                padding: {top: tPadTop, bottom: tPadBot}}
      },
      scales: {
        x: {
          type: 'linear', min: p.xr[0], max: p.xr[1], bounds: 'data',
          afterFit(s) { s.height = xAxisH; },
          afterBuildTicks(s) { s.ticks = p.xticks.map(v => ({value: v})); },
          ticks: {padding: 6, color: TXT, font: tickFont, autoSkip: false, maxRotation: 0,
                  callback: v => Number(v).toFixed(p.xdec)},
          grid: {color: '#ffffff', lineWidth: 1, drawTicks: false},
          border: {display: false},
          title: {display: true, text: p.xlabel, color: TXT, font: {family: FONT, size: AS},
                  padding: {top: 0, bottom: xTitlePadBot}}
        },
        y: {
          type: 'linear', min: p.yr[0], max: p.yr[1], bounds: 'data',
          afterFit(s) { s.width = yAxisW; },
          afterBuildTicks(s) { s.ticks = p.yticks.map(v => ({value: v})); },
          ticks: {padding: 6, color: TXT, font: tickFont, autoSkip: false,
                  callback: v => Number(v).toFixed(p.ydec)},
          grid: {color: '#ffffff', lineWidth: 1, drawTicks: false},
          border: {display: false},
          title: {display: true, text: p.ylabel, color: TXT, font: {family: FONT, size: AS},
                  padding: {top: yTitlePadTop, bottom: 0}}
        }
      }
    },
    plugins: [bgPlugin]
  });
}

const XL_A = 'Confidence Cutoff', YL_A = 'Effective Accuracy';
const XL_B = 'Coverage (1 - Abstention Rate)', YL_B = 'Accuracy';

panel({title: 'Low Resource', box: [0, 0, 390, 286], area: [46.6, 22.3, 378.2, 255.7],
  titleY: 11.7, xlabelY: 280, ylabelX: 11, xr: [-0.049, 1.029], yr: [0.047, 0.467],
  xticks: CUTOFF_TICKS, yticks: EA_LOW_Y_TICKS, xdec: 1, ydec: 2, xlabel: XL_A, ylabel: YL_A,
  datasets: eaDatasets([EA_LOW_AYA, EA_LOW_GEMMA, EA_LOW_QWEN])});
panel({title: 'Mid Resource', box: [400, 0, 390, 286], area: [443.2, 22, 775.6, 255.7],
  titleY: 11.7, xlabelY: 280, ylabelX: 412.7, xr: [-0.049, 1.029], yr: [0.076, 0.598],
  xticks: CUTOFF_TICKS, yticks: EA_MID_Y_TICKS, xdec: 1, ydec: 1, xlabel: XL_A, ylabel: YL_A,
  datasets: eaDatasets([EA_MID_AYA, EA_MID_GEMMA, EA_MID_QWEN])});
panel({title: 'High Resource', box: [180, 285, 400, 282], area: [229.2, 304, 561.5, 537],
  titleY: 293.3, xlabelY: 561, ylabelX: 199, xr: [-0.049, 1.029], yr: [0.155, 0.673],
  xticks: CUTOFF_TICKS, yticks: EA_HIGH_Y_TICKS, xdec: 1, ydec: 1, xlabel: XL_A, ylabel: YL_A,
  datasets: eaDatasets([EA_HIGH_AYA, EA_HIGH_GEMMA, EA_HIGH_QWEN])});

panel({title: 'Low Resource', box: [0, 630, 390, 281], area: [49.8, 651.7, 374.2, 880.7],
  titleY: 641.7, xlabelY: 904.7, ylabelX: 21, xr: [0.037, 1.044], yr: [0.141, 0.7735],
  xticks: COV_LOW_TICKS, yticks: ACC_Y_TICKS, xdec: 1, ydec: 1, xlabel: XL_B, ylabel: YL_B,
  datasets: accDatasets([ACC_LOW_AYA, ACC_LOW_GEMMA, ACC_LOW_QWEN])});
panel({title: 'Mid Resource', box: [400, 630, 380, 281], area: [440.25, 651.7, 764.7, 880.7],
  titleY: 641.7, xlabelY: 904.7, ylabelX: 410.7, xr: [0.115, 1.042], yr: [0.159, 0.7334],
  xticks: COV_MID_TICKS, yticks: ACC_Y_TICKS, xdec: 1, ydec: 1, xlabel: XL_B, ylabel: YL_B,
  datasets: accDatasets([ACC_MID_AYA, ACC_MID_GEMMA, ACC_MID_QWEN])});
panel({title: 'High Resource', box: [180, 905, 400, 282], area: [231.1, 928.3, 554.4, 1156.7],
  titleY: 917.7, xlabelY: 1180.7, ylabelX: 199.5, xr: [0.223, 1.038], yr: [0.176, 0.7876],
  xticks: COV_HIGH_TICKS, yticks: ACC_Y_TICKS, xdec: 1, ydec: 1, xlabel: XL_B, ylabel: YL_B,
  datasets: accDatasets([ACC_HIGH_AYA, ACC_HIGH_GEMMA, ACC_HIGH_QWEN])});

// ---------------- legends ----------------
const NS = 'http://www.w3.org/2000/svg';
function el(tag, attrs, parent) {
  const e = document.createElementNS(NS, tag);
  for (const k in attrs) e.setAttribute(k, attrs[k]);
  if (parent) parent.appendChild(e);
  return e;
}
function markerShape(svg, style, cx, cy, color) {
  if (style === 'circle') el('circle', {cx, cy, r: 2.9, fill: color}, svg);
  else if (style === 'triangle') {
    const r = 3.2;
    el('polygon', {points: `${cx},${cy - r} ${cx + r * 0.866},${cy + r * 0.5} ${cx - r * 0.866},${cy + r * 0.5}`, fill: color}, svg);
  } else {
    const d = 2.5;
    el('path', {d: `M${cx - d},${cy - d}L${cx + d},${cy + d}M${cx - d},${cy + d}L${cx + d},${cy - d}`, stroke: color, 'stroke-width': 2, fill: 'none'}, svg);
  }
}
function legend(o) {
  const svg = el('svg', {class: 'leg', width: o.w, height: o.h});
  svg.style.left = o.x + 'px'; svg.style.top = o.y + 'px';
  document.getElementById('legends').appendChild(svg);
  el('rect', {x: 0.5, y: 0.5, width: o.w - 1, height: o.h - 1, rx: 2.5, fill: '#eeeef4', stroke: '#cccccc', 'stroke-width': 0.8}, svg);
  o.items.forEach((it, i) => {
    const y = o.row0 + i * o.dy;
    const ln = el('line', {x1: o.lx1, x2: o.lx2, y1: y, y2: y, stroke: it.lineColor, 'stroke-width': it.lw || 1.3}, svg);
    if (it.dash && it.dash.length) ln.setAttribute('stroke-dasharray', it.dash.join(' '));
    if (it.marker) markerShape(svg, it.marker, (o.lx1 + o.lx2) / 2, y, it.color);
    const t = el('text', {x: o.tx, y: y, 'dominant-baseline': 'central'}, svg);
    t.textContent = it.label;
  });
}
legend({x: 616.7, y: 351, w: 106, h: 44, row0: 7.3, dy: 14.5, lx1: 4, lx2: 23.3, tx: 30,
  items: MODELS.map((m, i) => ({label: m, lineColor: LANG_COLORS[0], dash: LINE_DASHES[i]}))});
legend({x: 629.3, y: 411.7, w: 84, h: 87, row0: 7.6, dy: 14, lx1: 3, lx2: 22.4, tx: 30,
  items: LANGS.map((l, i) => ({label: l, lineColor: LANG_COLORS[i]}))});
legend({x: 610, y: 975, w: 110, h: 43, row0: 7.3, dy: 13.5, lx1: 3.3, lx2: 21.7, tx: 28.7,
  items: MODELS.map((m, i) => ({label: m, lineColor: rgba(LANG_COLORS[0], 0.55), lw: 1, marker: MARKERS[i], color: LANG_COLORS[0]}))});
legend({x: 621.3, y: 1034.3, w: 82, h: 83.5, row0: 6.7, dy: 14, lx1: 3.7, lx2: 23.7, tx: 29.7,
  items: LANGS.map((l, i) => ({label: l, lineColor: rgba(LANG_COLORS[i], 0.55), lw: 1, marker: 'circle', color: LANG_COLORS[i]}))});
</script>
</body></html>
